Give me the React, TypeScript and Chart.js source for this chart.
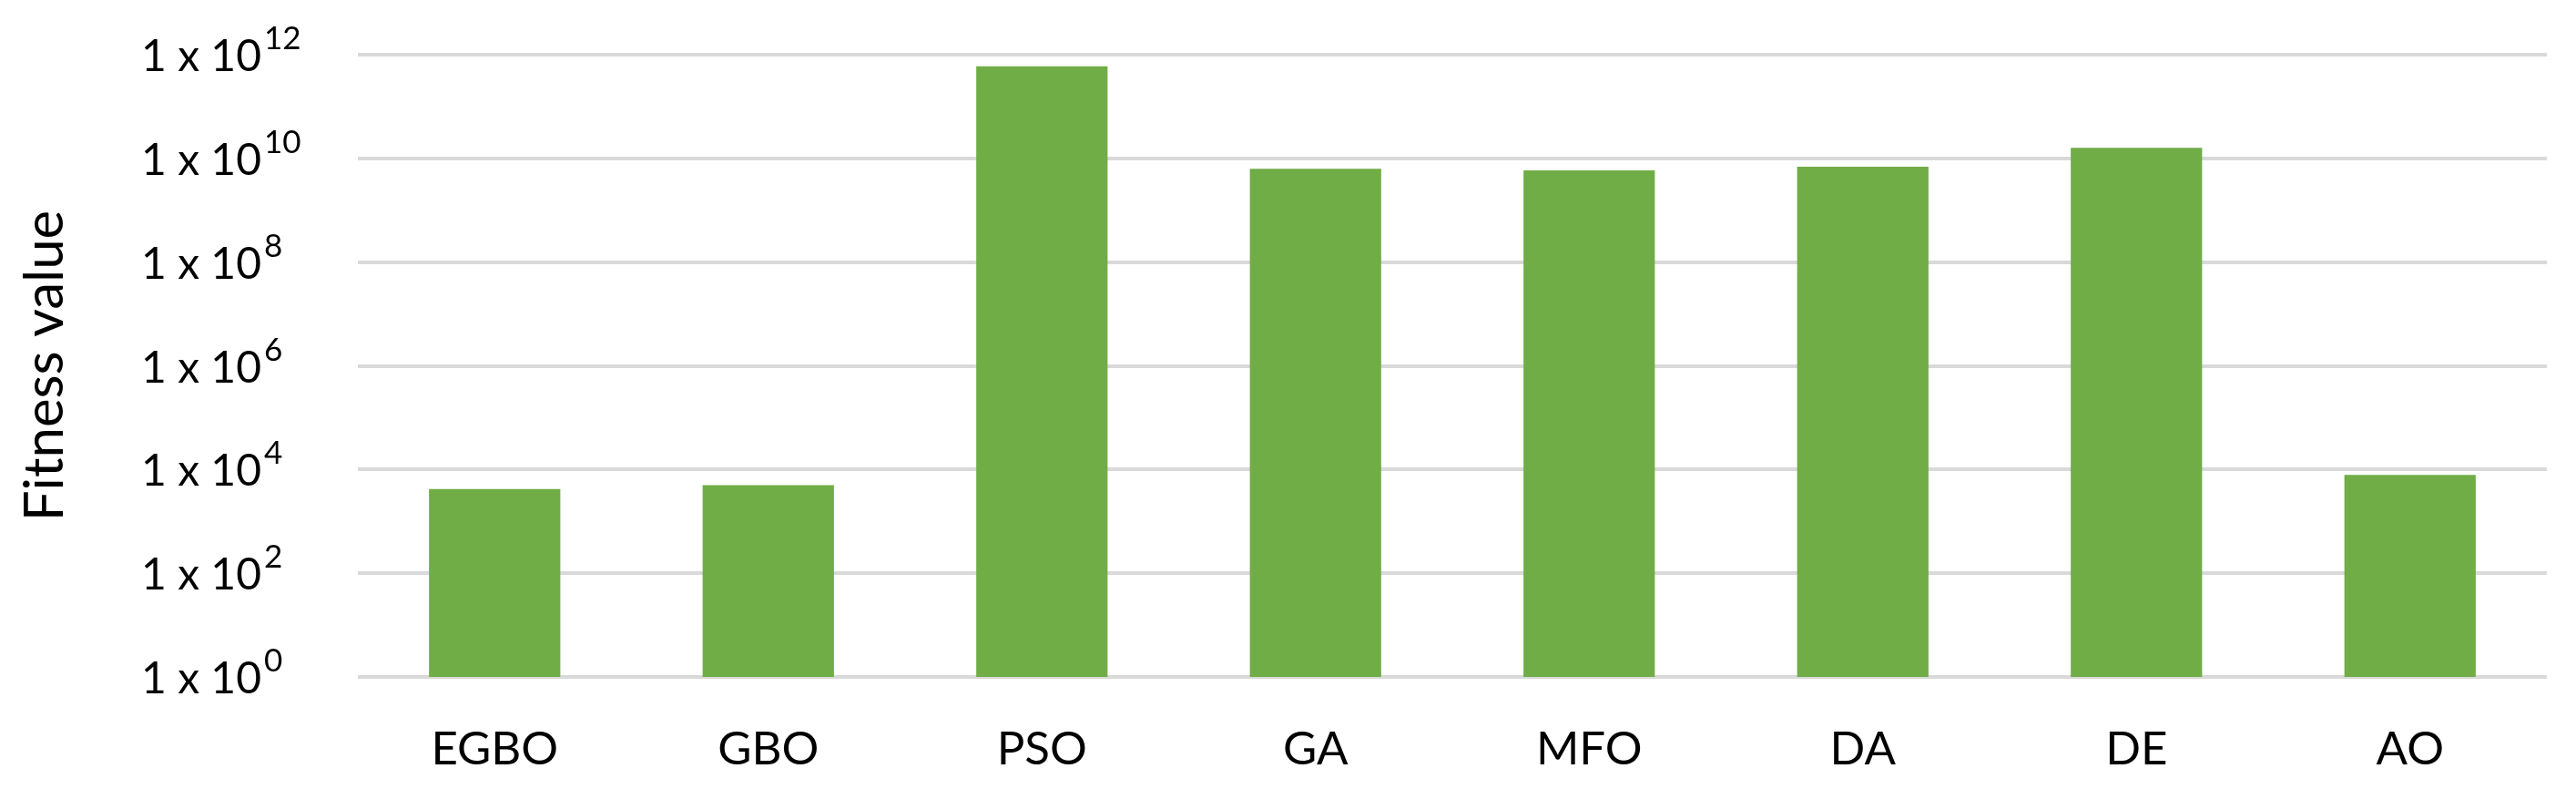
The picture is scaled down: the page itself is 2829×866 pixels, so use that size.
import React, { useEffect, useRef } from 'react';
import { Chart, registerables } from 'chart.js';

Chart.register(...registerables);

const categories = ['EGBO', 'GBO', 'PSO', 'GA', 'MFO', 'DA', 'DE', 'AO'];
const fitnessValues = [4200, 5000, 6.0e11, 6.3e9, 5.9e9, 6.9e9, 1.6e10, 7900];
const yTickValues = [1, 1e2, 1e4, 1e6, 1e8, 1e10, 1e12];
const yTickBase = '1 x 10';
const yTickExponents = ['0', '2', '4', '6', '8', '10', '12'];
const yTitle = 'Fitness value';

const WIDTH = 2829;
const HEIGHT = 866;

const superscriptTicks = {
  id: 'superscriptTicks',
  afterDraw(chart: any) {
    const scale = chart.scales.y;
    const ctx = chart.ctx;
    ctx.save();
    ctx.fillStyle = '#000000';
    ctx.textBaseline = 'alphabetic';
    scale.ticks.forEach((t: any, i: number) => {
      const y = scale.getPixelForValue(t.value);
      const baseRight = 287;
      ctx.font = '48px Lato';
      ctx.textAlign = 'right';
      ctx.fillText(yTickBase, baseRight, y + 18);
      ctx.font = '35px Lato';
      ctx.textAlign = 'left';
      ctx.fillText(yTickExponents[i], baseRight + 3, y - 6);
    });
    ctx.restore();
  },
};

export default function App() {
  const canvasRef = useRef<HTMLCanvasElement | null>(null);

  useEffect(() => {
    document.body.style.margin = '0';
    const canvas = canvasRef.current;
    if (!canvas) return;
    const chart = new Chart(canvas, {
      type: 'bar',
      data: {
        labels: categories,
        datasets: [
          {
            data: fitnessValues,
            backgroundColor: '#70AD47',
            borderWidth: 0,
            barPercentage: 0.48,
            categoryPercentage: 1,
          },
        ],
      },
      options: {
        responsive: false,
        animation: false,
        devicePixelRatio: 1,
        layout: { padding: { top: 60, right: 32, left: 0, bottom: 0 } },
        plugins: {
          legend: { display: false },
          tooltip: { enabled: false },
        },
        scales: {
          x: {
            grid: { display: false, drawTicks: false },
            border: { display: false },
            ticks: {
              font: { family: 'Lato', size: 51 },
              color: '#000000',
              padding: 49,
            },
            afterFit: (s: any) => {
              s.height = 123;
            },
          },
          y: {
            type: 'logarithmic',
            min: 1,
            max: 1e12,
            border: { display: false },
            grid: { color: '#d9d9d9', lineWidth: 4, drawTicks: false },
            ticks: { display: false },
            afterBuildTicks: (s: any) => {
              s.ticks = yTickValues.map((v) => ({ value: v }));
            },
            afterFit: (s: any) => {
              s.width = 393;
            },
            title: {
              display: true,
              text: yTitle,
              font: { family: 'Lato', size: 60 },
              color: '#000000',
              padding: { top: 14, bottom: 0 },
            },
          },
        },
      },
      plugins: [superscriptTicks],
    });
    return () => chart.destroy();
  }, []);

  return (
    <div style={{ width: WIDTH, height: HEIGHT, background: '#ffffff' }}>
      <canvas ref={canvasRef} width={WIDTH} height={HEIGHT} style={{ display: 'block' }} />
    </div>
  );
}
